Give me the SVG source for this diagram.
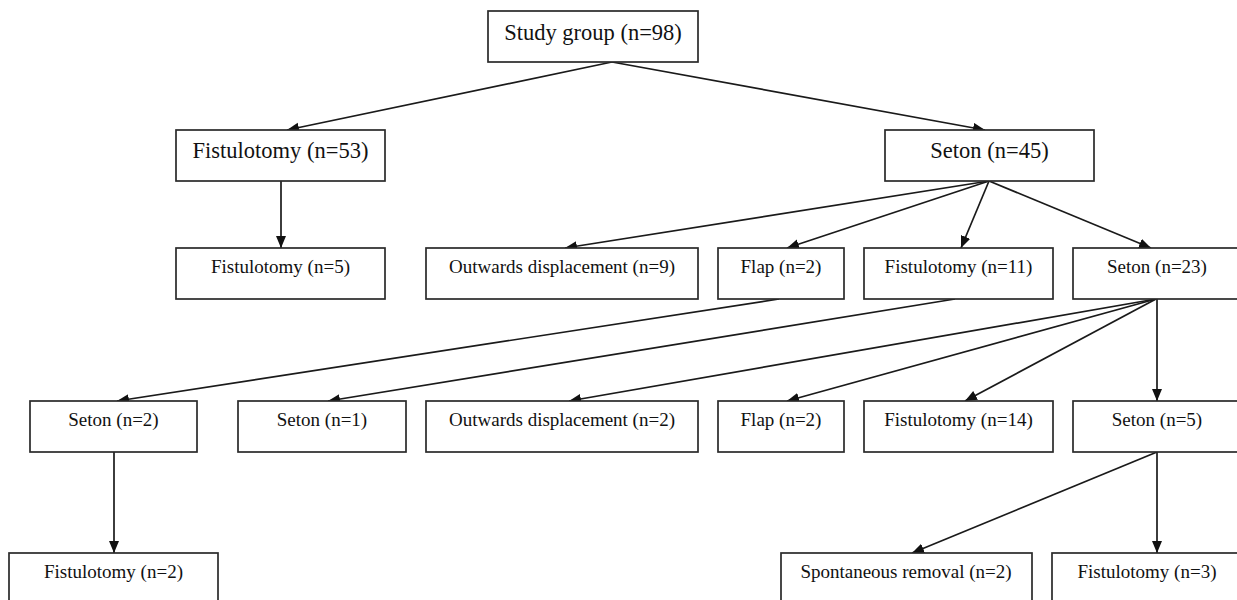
<svg xmlns="http://www.w3.org/2000/svg" width="1237" height="600" viewBox="0 0 1237 600">
<style>
.box{fill:#fff;stroke:#2a2a2a;stroke-width:1.7}
.t1{font-family:"Liberation Serif","Times New Roman",serif;font-size:22.5px;fill:#111;text-anchor:middle}
.t2{font-family:"Liberation Serif","Times New Roman",serif;font-size:19px;fill:#111;text-anchor:middle}
.edge{stroke:#1a1a1a;stroke-width:1.7;fill:none;marker-end:url(#arr)}
</style>
<defs>
<marker id="arr" markerUnits="userSpaceOnUse" markerWidth="13" markerHeight="11" refX="12" refY="5" orient="auto">
<path d="M0,0 L12,5 L0,10 z" fill="#111"/>
</marker>
</defs>
<rect width="1237" height="600" fill="#fff"/>
<g id="connectors">
<line class="edge" x1="612" y1="62" x2="287" y2="130"/>
<line class="edge" x1="612" y1="62" x2="985" y2="130"/>
<line class="edge" x1="281" y1="181" x2="281" y2="248"/>
<line class="edge" x1="989" y1="181" x2="565" y2="248"/>
<line class="edge" x1="989" y1="181" x2="787" y2="248"/>
<line class="edge" x1="989" y1="181" x2="961" y2="248"/>
<line class="edge" x1="989" y1="181" x2="1151" y2="248"/>
<line class="edge" x1="779" y1="299" x2="117" y2="401"/>
<line class="edge" x1="955" y1="299" x2="328" y2="401"/>
<line class="edge" x1="1156" y1="299" x2="569" y2="401"/>
<line class="edge" x1="1156" y1="299" x2="787" y2="401"/>
<line class="edge" x1="1156" y1="299" x2="965" y2="401"/>
<line class="edge" x1="1157" y1="299" x2="1157" y2="401"/>
<line class="edge" x1="114" y1="452" x2="114" y2="553"/>
<line class="edge" x1="1157" y1="452" x2="912" y2="553"/>
<line class="edge" x1="1157" y1="452" x2="1157" y2="553"/>
</g>
<g id="study"><rect class="box" x="488" y="11" width="210" height="51"/><text class="t1" x="593" y="40">Study group (n=98)</text></g>
<g id="fist53"><rect class="box" x="176" y="130" width="209" height="51"/><text class="t1" x="280.5" y="158">Fistulotomy (n=53)</text></g>
<g id="seton45"><rect class="box" x="885" y="130" width="209" height="51"/><text class="t1" x="989.5" y="158">Seton (n=45)</text></g>
<g id="fist5"><rect class="box" x="176" y="248" width="209" height="51"/><text class="t2" x="280.5" y="273">Fistulotomy (n=5)</text></g>
<g id="out9"><rect class="box" x="426" y="248" width="272" height="51"/><text class="t2" x="562" y="273">Outwards displacement (n=9)</text></g>
<g id="flap2a"><rect class="box" x="718" y="248" width="126" height="51"/><text class="t2" x="781" y="273">Flap (n=2)</text></g>
<g id="fist11"><rect class="box" x="864" y="248" width="189" height="51"/><text class="t2" x="958.5" y="273">Fistulotomy (n=11)</text></g>
<g id="seton23"><rect class="box" x="1073" y="248" width="168" height="51"/><text class="t2" x="1157" y="273">Seton (n=23)</text></g>
<g id="seton2"><rect class="box" x="30" y="401" width="167" height="51"/><text class="t2" x="113.5" y="426">Seton (n=2)</text></g>
<g id="seton1"><rect class="box" x="238" y="401" width="168" height="51"/><text class="t2" x="322" y="426">Seton (n=1)</text></g>
<g id="out2"><rect class="box" x="426" y="401" width="272" height="51"/><text class="t2" x="562" y="426">Outwards displacement (n=2)</text></g>
<g id="flap2b"><rect class="box" x="718" y="401" width="126" height="51"/><text class="t2" x="781" y="426">Flap (n=2)</text></g>
<g id="fist14"><rect class="box" x="864" y="401" width="189" height="51"/><text class="t2" x="958.5" y="426">Fistulotomy (n=14)</text></g>
<g id="seton5"><rect class="box" x="1073" y="401" width="168" height="51"/><text class="t2" x="1157" y="426">Seton (n=5)</text></g>
<g id="fist2"><rect class="box" x="9" y="553" width="209" height="51"/><text class="t2" x="113.5" y="578">Fistulotomy (n=2)</text></g>
<g id="spont"><rect class="box" x="781" y="553" width="251" height="51"/><text class="t2" x="906" y="578">Spontaneous removal (n=2)</text></g>
<g id="fist3"><rect class="box" x="1052" y="553" width="189" height="51"/><text class="t2" x="1147" y="578">Fistulotomy (n=3)</text></g>
</svg>
